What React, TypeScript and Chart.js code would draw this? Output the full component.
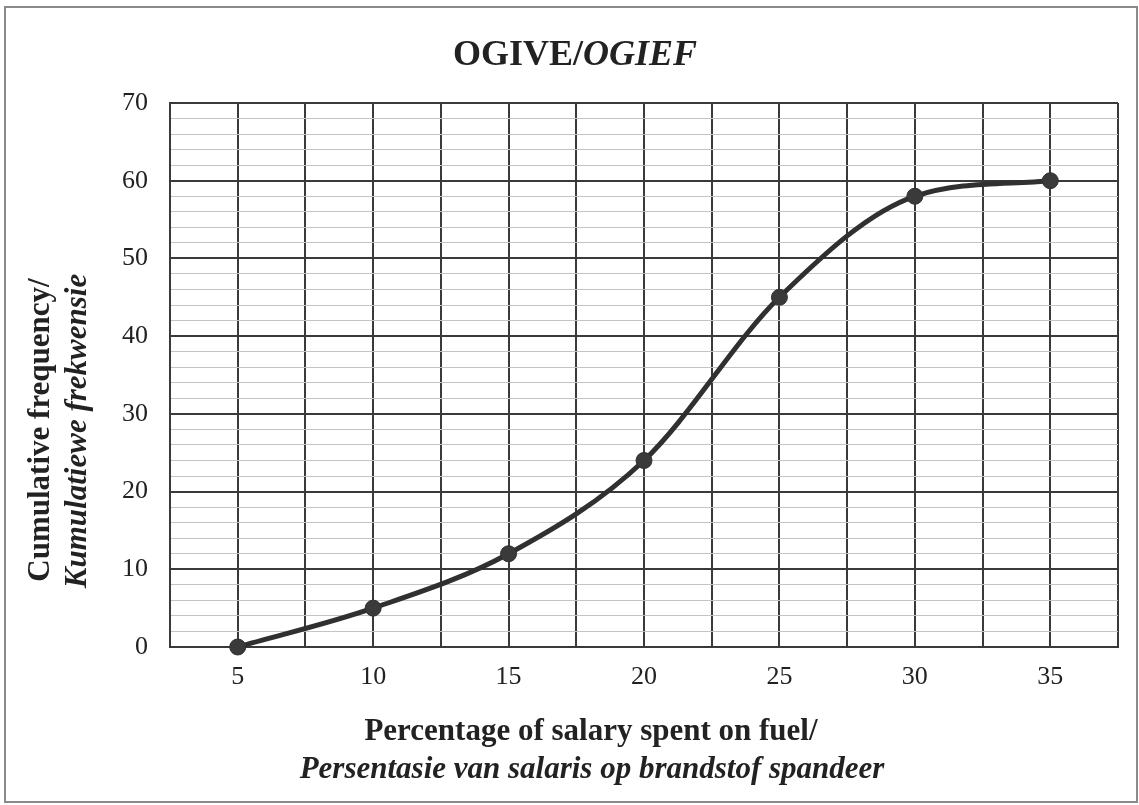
import React, { useEffect, useRef } from "react";
import { Chart, registerables } from "chart.js";

Chart.register(...registerables);

const percentages = [5, 10, 15, 20, 25, 30, 35];
const cumulativeFrequency = [0, 5, 12, 24, 45, 58, 60];
const xTickLabels = ["5", "10", "15", "20", "25", "30", "35"];
const yTickLabels = ["0", "10", "20", "30", "40", "50", "60", "70"];

const SERIF = "'Liberation Serif', 'Times New Roman', serif";
const INK = "#222";

type Run = { text: string; font: string };

function drawRuns(ctx: CanvasRenderingContext2D, runs: Run[], cx: number, baseline: number) {
  let total = 0;
  const widths = runs.map((r) => {
    ctx.font = r.font;
    const w = ctx.measureText(r.text).width;
    total += w;
    return w;
  });
  let x = cx - total / 2;
  ctx.textBaseline = "alphabetic";
  ctx.textAlign = "left";
  runs.forEach((r, i) => {
    ctx.font = r.font;
    ctx.fillText(r.text, x, baseline);
    x += widths[i];
  });
}

const textPlugin = {
  id: "ogiveText",
  afterDraw(chart: any) {
    const ctx: CanvasRenderingContext2D = chart.ctx;
    ctx.save();
    // outer frame
    ctx.strokeStyle = "#8a8a8a";
    ctx.lineWidth = 2;
    ctx.strokeRect(5, 7, 1132, 795);
    ctx.fillStyle = INK;
    // title
    drawRuns(
      ctx,
      [
        { text: "OGIVE/", font: `bold 36px ${SERIF}` },
        { text: "OGIEF", font: `italic bold 36px ${SERIF}` },
      ],
      575,
      65
    );
    // x-axis title
    drawRuns(ctx, [{ text: "Percentage of salary spent on fuel/", font: `bold 31px ${SERIF}` }], 591, 740);
    drawRuns(
      ctx,
      [{ text: "Persentasie van salaris op brandstof spandeer", font: `italic bold 31px ${SERIF}` }],
      592,
      778
    );
    // y-axis title (rotated)
    ctx.save();
    ctx.translate(49, 430);
    ctx.rotate(-Math.PI / 2);
    drawRuns(ctx, [{ text: "Cumulative frequency/", font: `bold 31px ${SERIF}` }], 0, 0);
    ctx.restore();
    ctx.save();
    ctx.translate(86, 431);
    ctx.rotate(-Math.PI / 2);
    drawRuns(ctx, [{ text: "Kumulatiewe frekwensie", font: `italic bold 31px ${SERIF}` }], 0, 0);
    ctx.restore();
    ctx.restore();
  },
};

export default function App() {
  const canvasRef = useRef<HTMLCanvasElement | null>(null);

  useEffect(() => {
    if (!canvasRef.current) return;
    const points = percentages.map((p, i) => ({ x: p, y: cumulativeFrequency[i] }));
    const chart = new Chart(canvasRef.current, {
      type: "line",
      data: {
        datasets: [
          {
            data: points,
            borderColor: "#303030",
            borderWidth: 5,
            pointRadius: 8,
            pointBackgroundColor: "#3a3a3a",
            pointBorderColor: "#303030",
            pointBorderWidth: 1,
            cubicInterpolationMode: "monotone",
            fill: false,
            clip: false,
          },
        ],
      },
      options: {
        animation: false,
        responsive: false,
        layout: { padding: { left: 70, right: 21, top: 103, bottom: 0 } },
        plugins: {
          legend: { display: false },
          title: { display: false },
          tooltip: { enabled: false },
        },
        scales: {
          x: {
            type: "linear",
            min: 2.5,
            max: 37.5,
            afterFit: (scale: any) => {
              scale.height = 158;
            },
            afterBuildTicks: (scale: any) => {
              const t: any[] = [];
              for (let v = 2.5; v <= 37.5 + 1e-9; v += 2.5) t.push({ value: v });
              scale.ticks = t;
            },
            ticks: {
              autoSkip: false,
              maxRotation: 0,
              padding: 15,
              color: INK,
              font: { family: SERIF, size: 26 },
              callback: (v: any) => {
                const idx = percentages.indexOf(Number(v));
                return idx >= 0 ? xTickLabels[idx] : "";
              },
            },
            grid: { color: "#3a3a3a", lineWidth: 2, drawTicks: false },
            border: { color: "#3a3a3a", width: 2 },
          },
          y: {
            min: 0,
            max: 70,
            afterFit: (scale: any) => {
              scale.width = 100;
            },
            ticks: {
              stepSize: 2,
              autoSkip: false,
              padding: 22,
              color: INK,
              font: { family: SERIF, size: 26 },
              callback: (v: any) => {
                const n = Number(v);
                return n % 10 === 0 ? yTickLabels[n / 10] : "";
              },
            },
            grid: {
              drawTicks: false,
              color: (c: any) => (c.tick && c.tick.value % 10 === 0 ? "#3a3a3a" : "#c4c4c4"),
              lineWidth: (c: any) => (c.tick && c.tick.value % 10 === 0 ? 2 : 1),
            },
            border: { color: "#3a3a3a", width: 2 },
          },
        },
      },
      plugins: [textPlugin],
    });
    return () => chart.destroy();
  }, []);

  return (
    <div style={{ position: "absolute", left: 0, top: 0, width: 1139, height: 805, background: "#fff" }}>
      <canvas ref={canvasRef} width={1139} height={805} style={{ display: "block" }} />
    </div>
  );
}
